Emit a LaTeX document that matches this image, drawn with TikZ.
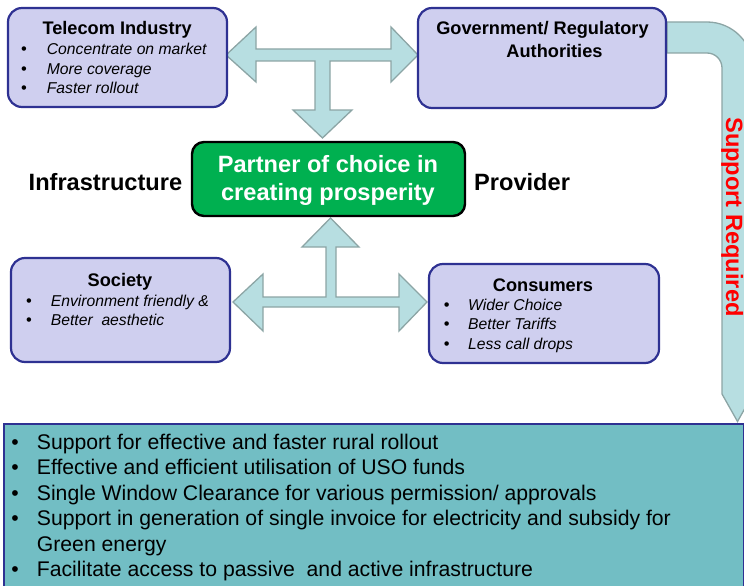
\documentclass[tikz,border=0pt]{standalone}
\usepackage{fontspec}
\setmainfont{Liberation Sans}
\definecolor{lav}{RGB}{207,207,239}
\definecolor{boxb}{RGB}{46,49,146}
\definecolor{afill}{RGB}{183,222,225}
\definecolor{aline}{RGB}{140,165,165}
\definecolor{pgreen}{RGB}{0,176,80}
\definecolor{bfill}{RGB}{114,190,196}
\definecolor{sred}{RGB}{255,0,0}
\begin{document}
\begin{tikzpicture}[x=1pt,y=-1pt,
  box/.style={draw=boxb, line width=2.2pt, fill=lav, rounded corners=14pt, inner sep=0pt},
  ttl/.style={font=\fontsize{18.2}{21}\selectfont\bfseries, inner sep=0pt, anchor=base},
  itm/.style={font=\fontsize{15.7}{19}\selectfont\itshape, inner sep=0pt, anchor=base west},
  bul/.style={font=\fontsize{16.5}{19}\selectfont, inner sep=0pt, anchor=base},
  big/.style={font=\fontsize{23.6}{27}\selectfont\bfseries, inner sep=0pt, anchor=base},
  blist/.style={font=\fontsize{21.2}{25}\selectfont, inner sep=0pt, anchor=base west},
  bbul/.style={font=\fontsize{21.2}{25}\selectfont, inner sep=0pt, anchor=base},
  blockarrow/.style={fill=afill, draw=aline, line width=1.3pt, line join=miter}]
\useasboundingbox (0,0) rectangle (744,586);
\clip (0,0) rectangle (744,586);

% Support Required bent arrow
\draw[blockarrow] (667,22) -- (707,22) .. controls (732.4,22) and (753,42.6) .. (753,68)
  -- (753,394) -- (737.5,421.5) -- (722,394) -- (722,68)
  .. controls (722,59.7) and (715.3,53) .. (707,53) -- (667,53) -- cycle;
\node[big, text=sred, rotate=-90] (support) at (726,217) {Support Required};

% bottom box
\node[draw=boxb, line width=2pt, fill=bfill, minimum width=740, minimum height=190,
      anchor=north west, inner sep=0pt] (need) at (3,423) {};
\foreach \t [count=\i] in {Support for effective and faster rural rollout,
    Effective and efficient utilisation of USO funds,
    Single Window Clearance for various permission/ approvals,
    Support in generation of single invoice for electricity and subsidy for} {
  \node[bbul] (nb\i) at (15,{449.3+25.5*(\i-1)}) {\textbullet};
  \node[blist] (nt\i) at (36.7,{449.3+25.5*(\i-1)}) {\t};
}
\node[blist] (nt4b) at (36.7,551.3) {Green energy};
\node[bbul] (nb5) at (15,576.8) {\textbullet};
\node[blist] (nt5) at (36.7,576.8) {Facilitate access to passive\ \ and active infrastructure};

% top T arrow
\draw[blockarrow] (226,55) -- (256,27) -- (256,49) -- (391,49) -- (391,27) -- (418,55)
  -- (391,82) -- (391,61) -- (330,61) -- (330,110) -- (352,110) -- (322.5,138)
  -- (293,110) -- (315,110) -- (315,61) -- (256,61) -- (256,82) -- cycle;
% bottom T arrow
\draw[blockarrow] (233,302) -- (263,274) -- (263,297) -- (326,297) -- (326,247)
  -- (302,247) -- (330.5,218) -- (359,247) -- (336,247) -- (336,297) -- (399,297)
  -- (399,274) -- (427,302) -- (399,331) -- (399,307) -- (263,307) -- (263,331) -- cycle;

% boxes
\node[box, minimum width=219, minimum height=99] (tel) at (117.5,57.5) {};
\node[box, minimum width=248, minimum height=100] (gov) at (542,58) {};
\node[box, minimum width=219, minimum height=104] (soc) at (120.5,310) {};
\node[box, minimum width=230, minimum height=99] (con) at (544,313.5) {};
\node[draw=black, line width=2.4pt, fill=pgreen, rounded corners=12pt, inner sep=0pt,
      minimum width=273, minimum height=74] (core) at (328.5,179) {};

% telecom
\node[ttl] (telt) at (117.2,35) {Telecom Industry};
\foreach \t [count=\i] in {Concentrate on market, More coverage, Faster rollout} {
  \node[bul] (tb\i) at (24,{55+19.3*(\i-1)}) {\textbullet};
  \node[itm] (ti\i) at (46.7,{55+19.3*(\i-1)}) {\t};
}
% government
\node[ttl] (govt1) at (542.5,35) {Government/ Regulatory};
\node[ttl] (govt2) at (554.5,58) {Authorities};
% society
\node[ttl] (soct) at (120,286) {Society};
\foreach \t [count=\i] in {Environment friendly \&, Better\ \ aesthetic} {
  \node[bul] (sb\i) at (29,{306+19.3*(\i-1)}) {\textbullet};
  \node[itm] (si\i) at (50.7,{306+19.3*(\i-1)}) {\t};
}
% consumers
\node[ttl] (cont) at (543,291.7) {Consumers};
\foreach \t [count=\i] in {Wider Choice, Better Tariffs, Less call drops} {
  \node[bul] (cb\i) at (446.7,{310+19.7*(\i-1)}) {\textbullet};
  \node[itm] (ci\i) at (468,{310+19.7*(\i-1)}) {\t};
}
% centre
\node[big, text=white] (core1) at (328,172.7) {Partner of choice in};
\node[big, text=white] (core2) at (328,200) {creating prosperity};
\node[big, anchor=base west] (infra) at (28.5,190) {Infrastructure};
\node[big, anchor=base west] (prov) at (474,190) {Provider};
\end{tikzpicture}
\end{document}
